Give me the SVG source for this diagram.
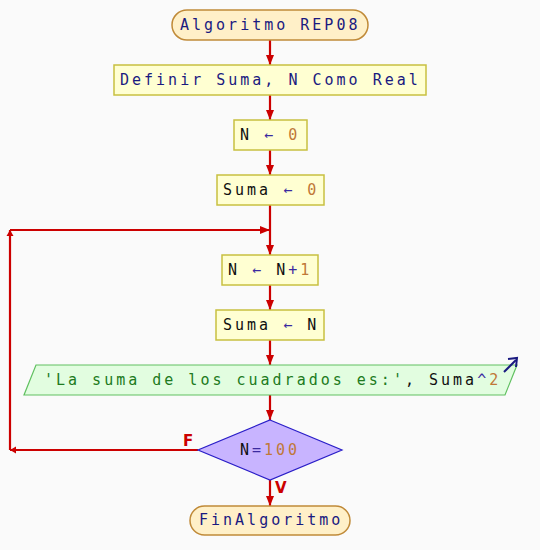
<svg xmlns="http://www.w3.org/2000/svg" width="540" height="550" viewBox="0 0 540 550">
<style>
text{font-family:"DejaVu Sans Mono","Liberation Mono",monospace;font-size:15px;letter-spacing:3px}
.term{fill:#fff0c8;stroke:#c08a38;stroke-width:1.5}
.proc{fill:#ffffd2;stroke:#c8c040;stroke-width:1.5}
.out{fill:#e2fde0;stroke:#60c060;stroke-width:1.2}
.dec{fill:#c8b4ff;stroke:#2a1ec8;stroke-width:1.2}
.kw{fill:#1a1a80}
.id{fill:#101010}
.num{fill:#c07838}
.str{fill:#207a20}
.op{fill:#3a2aa0}
.lbl{fill:#cc0000;font-weight:bold;font-family:"DejaVu Sans","Liberation Sans",sans-serif;font-size:15px;letter-spacing:0}
.c{stroke:#cc0000;stroke-width:2.2;fill:none}
</style>
<defs>
<marker id="ah" markerUnits="userSpaceOnUse" markerWidth="12" markerHeight="8" refX="10" refY="4" orient="auto">
<path d="M0,0 L10,4 L0,8 Z" fill="#cc0000"/>
</marker>
<marker id="as" markerUnits="userSpaceOnUse" markerWidth="8" markerHeight="8" refX="6" refY="4" orient="auto">
<path d="M0,0.5 L6,4 L0,7.5 Z" fill="#cc0000"/>
</marker>
</defs>
<rect width="540" height="550" fill="#fafafa"/>
<g id="connectors">
<line class="c" x1="270" y1="40" x2="270" y2="65" marker-end="url(#ah)"/>
<line class="c" x1="270" y1="95" x2="270" y2="120" marker-end="url(#ah)"/>
<line class="c" x1="270" y1="150" x2="270" y2="175" marker-end="url(#ah)"/>
<line class="c" x1="270" y1="205" x2="270" y2="255" marker-end="url(#ah)"/>
<line class="c" x1="10" y1="230" x2="270" y2="230" marker-end="url(#ah)"/>
<line class="c" x1="270" y1="285" x2="270" y2="310" marker-end="url(#ah)"/>
<line class="c" x1="270" y1="340" x2="270" y2="365" marker-end="url(#ah)"/>
<line class="c" x1="270" y1="395" x2="270" y2="420" marker-end="url(#ah)"/>
<line class="c" x1="198" y1="450" x2="10" y2="450" marker-end="url(#as)"/>
<line class="c" x1="10" y1="450" x2="10" y2="230" marker-end="url(#as)"/>
<line class="c" x1="270" y1="480" x2="270" y2="506" marker-end="url(#ah)"/>
<text class="lbl" x="183" y="446">F</text>
<text class="lbl" x="275" y="493">V</text>
</g>
<g id="start">
<rect class="term" x="172" y="10" width="196" height="30" rx="15"/>
<text class="kw" x="180" y="30">Algoritmo REP08</text>
</g>
<g id="define">
<rect class="proc" x="114" y="65" width="312" height="30"/>
<text class="kw" x="120" y="85">Definir Suma, N Como Real</text>
</g>
<g id="assignN0">
<rect class="proc" x="234" y="120" width="73" height="30"/>
<text x="240" y="140"><tspan class="id">N</tspan> <tspan class="op">←</tspan> <tspan class="num">0</tspan></text>
</g>
<g id="assignSuma0">
<rect class="proc" x="217" y="175" width="107" height="30"/>
<text x="223" y="195"><tspan class="id">Suma</tspan> <tspan class="op">←</tspan> <tspan class="num">0</tspan></text>
</g>
<g id="incN">
<rect class="proc" x="222" y="255" width="96" height="30"/>
<text x="228" y="275"><tspan class="id">N</tspan> <tspan class="op">←</tspan> <tspan class="id">N</tspan><tspan class="op">+</tspan><tspan class="num">1</tspan></text>
</g>
<g id="assignSumaN">
<rect class="proc" x="216" y="310" width="108" height="30"/>
<text x="223" y="330"><tspan class="id">Suma</tspan> <tspan class="op">←</tspan> <tspan class="id">N</tspan></text>
</g>
<g id="output">
<polygon class="out" points="36,365 517,365 505,395 24,395"/>
<path d="M504,372 L516,360" stroke="#1a1a80" stroke-width="2" fill="none"/>
<path d="M508,359 L517,358 L516,367" stroke="#1a1a80" stroke-width="2" fill="none"/>
<text x="44" y="385"><tspan class="str">'La suma de los cuadrados es:'</tspan><tspan class="id">, Suma</tspan><tspan class="op">^</tspan><tspan class="num">2</tspan></text>
</g>
<g id="decision">
<polygon class="dec" points="270,420 342,450 270,480 198,450"/>
<text x="240" y="455"><tspan class="id">N</tspan><tspan class="op">=</tspan><tspan class="num">100</tspan></text>
</g>
<g id="end">
<rect class="term" x="190" y="506" width="160" height="29" rx="14.5"/>
<text class="kw" x="199" y="525">FinAlgoritmo</text>
</g>
</svg>
